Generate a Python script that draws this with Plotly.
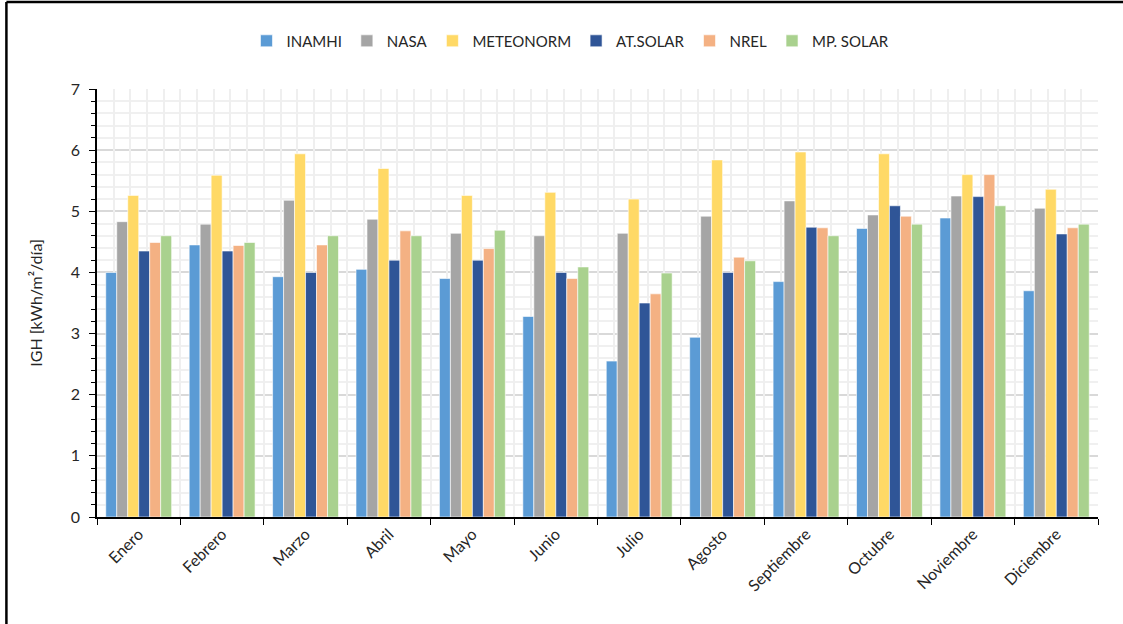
import plotly.graph_objects as go

months = ["Enero", "Febrero", "Marzo", "Abril", "Mayo", "Junio", "Julio",
          "Agosto", "Septiembre", "Octubre", "Noviembre", "Diciembre"]

inamhi    = [4.00, 4.45, 3.93, 4.05, 3.90, 3.28, 2.55, 2.94, 3.85, 4.72, 4.89, 3.70]
nasa      = [4.83, 4.79, 5.18, 4.87, 4.64, 4.60, 4.64, 4.92, 5.17, 4.94, 5.25, 5.05]
meteonorm = [5.26, 5.59, 5.94, 5.70, 5.26, 5.31, 5.20, 5.84, 5.97, 5.94, 5.60, 5.36]
at_solar  = [4.35, 4.35, 4.00, 4.20, 4.20, 4.00, 3.50, 4.00, 4.74, 5.09, 5.24, 4.63]
nrel      = [4.49, 4.44, 4.45, 4.68, 4.39, 3.90, 3.65, 4.25, 4.73, 4.92, 5.60, 4.73]
mp_solar  = [4.60, 4.49, 4.60, 4.60, 4.69, 4.09, 3.99, 4.19, 4.60, 4.79, 5.09, 4.79]

series = [
    ("INAMHI", inamhi, "#5B9BD5"),
    ("NASA", nasa, "#A5A5A5"),
    ("METEONORM", meteonorm, "#FFD966"),
    ("AT.SOLAR", at_solar, "#2F5597"),
    ("NREL", nrel, "#F4B183"),
    ("MP. SOLAR", mp_solar, "#A9D18E"),
]

FONT = "Lato, 'Open Sans', sans-serif"

fig = go.Figure()

# invisible trace on a linear overlay axis, used only for the vertical minor grid
fig.add_trace(go.Scatter(x=[-0.5, 11.5], y=[0, 0], mode="markers",
                         marker=dict(opacity=0), xaxis="x2", yaxis="y",
                         showlegend=False, hoverinfo="skip"))

for name, vals, color in series:
    fig.add_trace(go.Bar(
        name=name, x=months, y=vals,
        marker=dict(color=color, line=dict(color="white", width=0.6)),
    ))

fig.update_layout(
    width=1123, height=624,
    paper_bgcolor="white", plot_bgcolor="white",
    margin=dict(l=97, r=25, t=89, b=107),
    barmode="group", bargap=0.21, bargroupgap=0,
    font=dict(family=FONT, size=14, color="#262626"),
    legend=dict(orientation="h", x=0.473, xanchor="center", y=1.112, yanchor="middle",
                font=dict(size=15, color="#262626"), itemwidth=30,
                traceorder="normal", itemclick=False),
    xaxis=dict(
        type="category", range=[-0.5, 11.5],
        tickangle=-45, tickfont=dict(size=16, color="#262626"),
        showgrid=False, showline=True, linecolor="black", linewidth=1.5,
        ticks="outside", ticklen=6, tickcolor="black",
        tickson="boundaries", zeroline=False,
    ),
    xaxis2=dict(
        overlaying="x", range=[-0.5, 11.5],
        tick0=-0.5, dtick=0.2, showgrid=True, gridcolor="#EFEFEF", gridwidth=1.5,
        showticklabels=False, ticks="", zeroline=False, showline=False,
        layer="below traces",
    ),
    yaxis=dict(
        range=[0, 7], dtick=1, tickfont=dict(size=16, color="#262626"),
        ticklabelstandoff=6,
        title=dict(text="IGH [kWh/m²/día]", font=dict(size=16, color="#262626"), standoff=24),
        showgrid=True, gridcolor="#D9D9D9", gridwidth=1.5,
        showline=True, linecolor="black", linewidth=1.5,
        ticks="outside", ticklen=6, tickcolor="black",
        minor=dict(dtick=0.2, showgrid=True, gridcolor="#F0F0F0", gridwidth=1.5,
                   ticks="outside", ticklen=4, tickcolor="black"),
        zeroline=False,
    ),
    shapes=[
        dict(type="line", xref="paper", yref="paper", x0=-0.0905, x1=1.025,
             y0=1.2035, y1=1.2035, line=dict(color="black", width=2.5)),
        dict(type="line", xref="paper", yref="paper", x0=-0.0905, x1=-0.0905,
             y0=1.2035, y1=-0.3, line=dict(color="black", width=2.5)),
    ],
)

fig.write_html("out.html")
